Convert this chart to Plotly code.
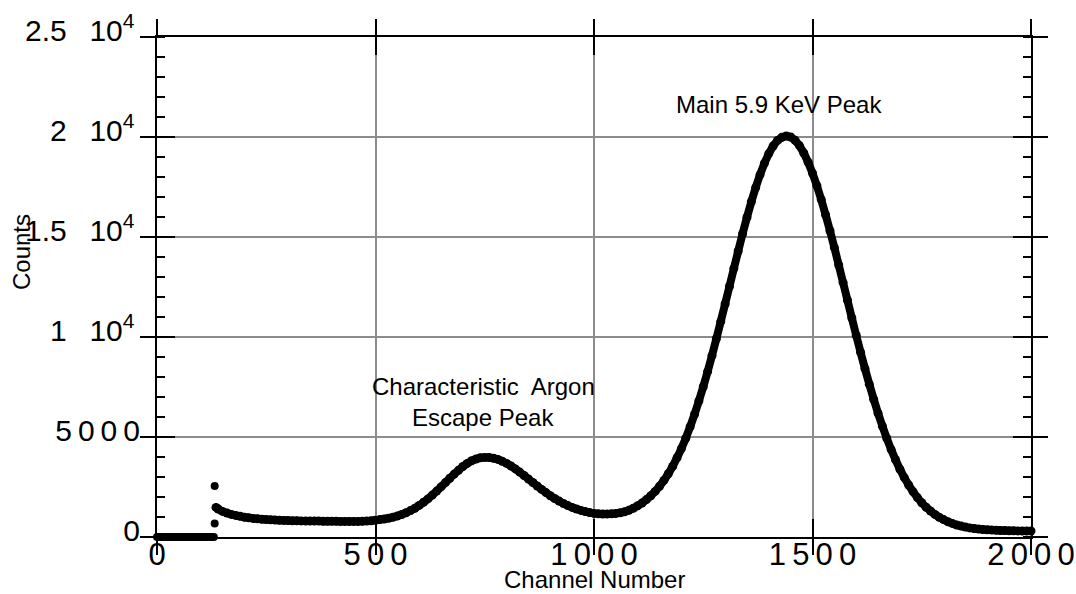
import plotly.graph_objects as go

FONT = "Liberation Sans, Arial, Helvetica, sans-serif"
THIN = "\u2009"
NBSP = "\u00a0"


def spaced(text):
    """Open up digit strings a little, the way the axis labels are set."""
    return THIN.join(text)


# Channels below the threshold register nothing, then a short spike
zero_channel = list(range(0, 131, 5))
zero_counts = [0, 0, 0, 0, 0, 0, 0, 0, 0, 0, 0, 0, 0, 0,
               0, 0, 0, 0, 0, 0, 0, 0, 0, 0, 0, 0, 0]
spike_channel = [132, 132]
spike_counts = [2550, 670]

# Pulse-height spectrum above threshold
spectrum_channel = [135] + list(range(140, 2001, 10))
spectrum_counts = [
    1480, 1400, 1280, 1200, 1130, 1080, 1040,                       # 135-190
    990, 960, 930, 910, 890, 870, 860, 850, 840, 830,               # 200-290
    820, 815, 810, 805, 800, 800, 795, 795, 790, 790,               # 300-390
    785, 785, 780, 780, 780, 780, 780, 785, 795, 815,               # 400-490
    840, 870, 900, 940, 990, 1050, 1125, 1210, 1320, 1440,          # 500-590
    1580, 1735, 1905, 2095, 2295, 2505, 2720, 2935, 3145, 3340,     # 600-690
    3525, 3680, 3810, 3900, 3960, 3980, 3975, 3940, 3880, 3790,     # 700-790
    3680, 3550, 3405, 3245, 3075, 2900, 2725, 2550, 2380, 2220,     # 800-890
    2065, 1925, 1795, 1675, 1570, 1480, 1400, 1330, 1270, 1220,     # 900-990
    1180, 1160, 1150, 1150, 1160, 1180, 1210, 1260, 1340, 1440,     # 1000-1090
    1560, 1700, 1870, 2060, 2280, 2540, 2830, 3160, 3530, 3960,     # 1100-1190
    4420, 4940, 5510, 6130, 6800, 7510, 8270, 9070, 9910, 10770,    # 1200-1290
    11650, 12530, 13420, 14300, 15160, 15980, 16760, 17470, 18120, 18690,  # 1300-1390
    19170, 19550, 19830, 19990, 20050, 20000, 19840, 19570, 19200, 18740,  # 1400-1490
    18190, 17560, 16870, 16110, 15310, 14470, 13600, 12720, 11840, 10950,  # 1500-1590
    10080, 9240, 8420, 7640, 6890, 6190, 5540, 4930, 4370, 3860,    # 1600-1690
    3390, 2970, 2600, 2270, 1970, 1710, 1490, 1300, 1130, 990,      # 1700-1790
    870, 760, 680, 600, 545, 495, 455, 425, 395, 375,               # 1800-1890
    360, 345, 335, 325, 320, 315, 310, 305, 300, 300,               # 1900-1990
    300,                                                            # 2000
]

x_tick_vals = [0, 500, 1000, 1500, 2000]
x_tick_text = [spaced(s) for s in ["0", "500", "1000", "1500", "2000"]]
y_tick_vals = [0, 5000, 10000, 15000, 20000, 25000]
# trailing transparent glyph keeps the power-of-ten labels clear of the ticks
PAD = '<span style="color:rgba(0,0,0,0);font-size:10px">0</span>'
POW = NBSP + NBSP + THIN + "10<sup>4</sup>" + PAD
y_tick_text = ["0", spaced("5000"), "1" + POW, "1.5" + POW, "2" + POW, "2.5" + POW]

x_range = [0, 2000]
y_range = [0, 25000]

dot = dict(color="black", size=9)
fig = go.Figure()
fig.add_trace(go.Scatter(
    x=spectrum_channel, y=spectrum_counts, mode="lines+markers",
    line=dict(color="black", width=8, simplify=False), marker=dot,
    cliponaxis=False, hoverinfo="x+y",
))
fig.add_trace(go.Scatter(
    x=zero_channel, y=zero_counts, mode="markers",
    marker=dict(color="black", size=8), cliponaxis=False,
    xaxis="x2", yaxis="y2", hoverinfo="x+y",
))
fig.add_trace(go.Scatter(
    x=spike_channel, y=spike_counts, mode="markers",
    marker=dict(color="black", size=8), cliponaxis=False,
    xaxis="x2", yaxis="y2", hoverinfo="x+y",
))

axis_common = dict(
    showline=True, linecolor="black", linewidth=2,
    mirror="allticks", zeroline=False, tickcolor="black", tickwidth=2,
)

fig.update_layout(
    width=1076, height=594,
    margin=dict(l=157, r=45, t=37, b=57, autoexpand=False),
    plot_bgcolor="white", paper_bgcolor="white",
    showlegend=False,
    font=dict(family=FONT, color="black"),
    xaxis=dict(
        range=x_range, tickmode="array", tickvals=x_tick_vals, ticktext=x_tick_text,
        ticks="outside", ticklen=16, showgrid=True, gridcolor="#8c8c8c", gridwidth=2,
        tickfont=dict(size=31), ticklabelstandoff=-27, automargin=False,
        **axis_common,
    ),
    yaxis=dict(
        range=y_range, tickmode="array", tickvals=y_tick_vals, ticktext=y_tick_text,
        ticks="outside", ticklen=15, showgrid=True, gridcolor="#8c8c8c", gridwidth=2,
        tickfont=dict(size=30), ticklabelstandoff=-6, ticklabelshift=-7,
        automargin=False,
        minor=dict(ticks="inside", ticklen=8, tickwidth=2, tickcolor="black",
                   tickmode="linear", tick0=0, dtick=1000, showgrid=False),
        **axis_common,
    ),
    xaxis2=dict(
        range=x_range, overlaying="x", tickmode="array", tickvals=x_tick_vals,
        ticks="inside", ticklen=18, showticklabels=False, showgrid=False,
        automargin=False, **axis_common,
    ),
    yaxis2=dict(
        range=y_range, overlaying="y", tickmode="array", tickvals=y_tick_vals,
        ticks="inside", ticklen=18, showticklabels=False, showgrid=False,
        automargin=False, **axis_common,
    ),
)

label_font = dict(family=FONT, size=24, color="black")
fig.add_annotation(x=1423, y=21625, text="Main 5.9 KeV Peak", showarrow=False,
                   font=label_font)
fig.add_annotation(x=748, y=7525, text="Characteristic" + NBSP + " Argon",
                   showarrow=False, font=label_font)
fig.add_annotation(x=747, y=6000, text="Escape Peak", showarrow=False,
                   font=label_font)
fig.add_annotation(xref="paper", yref="paper", x=-0.1556, y=0.57, text="Counts",
                   textangle=-90, showarrow=False, font=label_font,
                   xanchor="center", yanchor="middle")
fig.add_annotation(xref="paper", yref="paper", x=0.5, y=-0.084, text="Channel Number",
                   showarrow=False, font=label_font, xanchor="center", yanchor="middle")

fig.write_html("out.html")
